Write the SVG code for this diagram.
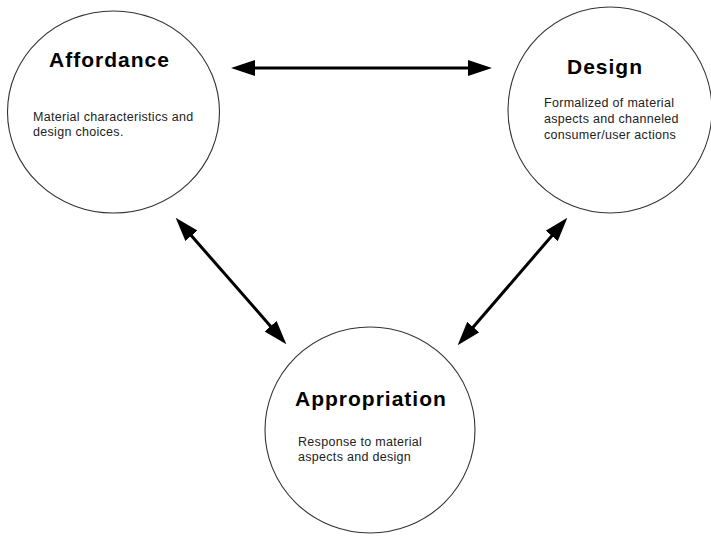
<svg xmlns="http://www.w3.org/2000/svg" width="711" height="536" viewBox="0 0 711 536">
  <style>
    .node { fill: #ffffff; stroke: #333333; stroke-width: 1.1; }
    .title { font-family: "Liberation Sans", Arial, sans-serif; font-weight: bold; font-size: 21px; letter-spacing: 1px; fill: #000000; }
    .body { font-family: "Liberation Sans", Arial, sans-serif; font-size: 12.5px; letter-spacing: 0.3px; fill: #222222; }
    .link { stroke: #000000; stroke-width: 3; fill: none; marker-start: url(#head); marker-end: url(#head); }
  </style>
  <defs>
    <marker id="head" markerUnits="userSpaceOnUse" viewBox="0 -8 24 16" markerWidth="24" markerHeight="16" refX="1" refY="0" orient="auto-start-reverse">
      <path d="M0,-8 L24,0 L0,8 Z" fill="#000000"/>
    </marker>
  </defs>
  <rect width="711" height="536" fill="#ffffff"/>

  <g id="connectors">
    <line class="link" x1="254" y1="68" x2="469" y2="68"/>
    <line class="link" x1="190.8" y1="235.05" x2="271.2" y2="326.95"/>
    <line class="link" x1="552.35" y1="235.19" x2="472.65" y2="327.81"/>
  </g>

  <g id="affordance">
    <ellipse class="node" cx="113.5" cy="112" rx="106" ry="101"/>
    <text class="title" x="49" y="67">Affordance</text>
    <text class="body" x="33" y="121">Material characteristics and</text>
    <text class="body" x="33" y="136">design choices.</text>
  </g>

  <g id="design">
    <ellipse class="node" cx="610" cy="110" rx="102" ry="103"/>
    <text class="title" x="567" y="74">Design</text>
    <text class="body" x="544" y="107">Formalized of material</text>
    <text class="body" x="544" y="123">aspects and channeled</text>
    <text class="body" x="544" y="139">consumer/user actions</text>
  </g>

  <g id="appropriation">
    <ellipse class="node" cx="370" cy="430" rx="105" ry="103"/>
    <text class="title" x="295" y="406">Appropriation</text>
    <text class="body" x="298" y="446">Response to material</text>
    <text class="body" x="298" y="461">aspects and design</text>
  </g>
</svg>
